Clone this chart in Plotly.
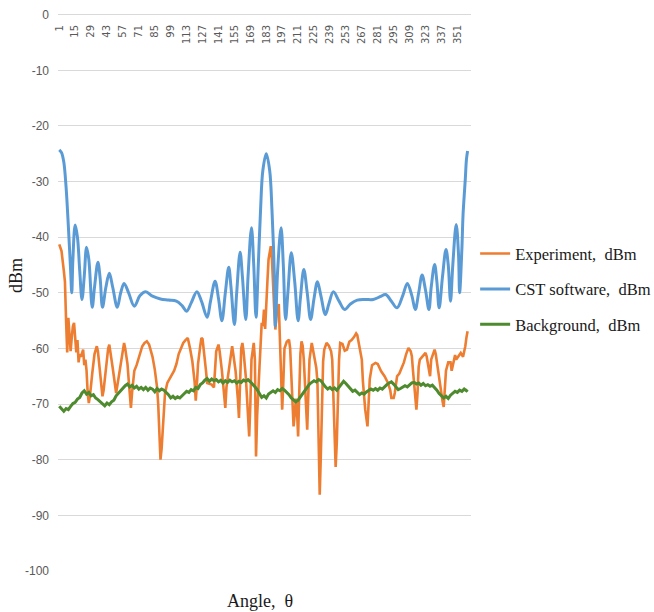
import plotly.graph_objects as go

# ---------------- data ----------------
cst_angle = [1, 3, 5, 7, 9, 11, 12, 13, 15, 17, 19, 21, 23, 25, 27, 30, 32, 35, 37, 39,
             42, 45, 48, 52, 55, 58, 62, 67, 72, 77, 83, 90, 97, 104, 109, 113, 117, 122,
             126, 131, 134, 138, 141, 144, 147, 150, 152, 155, 157, 160, 162, 165, 167,
             170, 172, 174, 176, 178, 180, 183, 186, 188, 190, 191, 193, 196, 198, 200,
             202, 205, 208, 211, 213, 216, 219, 222, 225, 228, 231, 235, 238, 242, 247,
             252, 257, 263, 270, 277, 283, 288, 293, 298, 303, 307, 311, 314, 317, 320,
             323, 326, 328, 331, 333, 335, 338, 341, 343, 345, 347, 350, 352, 353, 355,
             356, 358, 359, 360]
cst_dbm = [-24.3, -24.8, -26.5, -31, -38, -46, -50, -44, -37.8, -40, -46, -51.2, -47, -41.8,
           -44, -52.6, -49, -44.5, -47.5, -52.6, -49, -46.5, -49, -52.6, -50, -48.3, -50,
           -52.4, -50.5, -49.8, -50.6, -51.1, -51.3, -51.5, -52.3, -53.3, -51.8, -49.8,
           -51.5, -54.4, -51.5, -47.9, -51, -55, -50, -45.4, -49, -55.7, -50, -42.7, -47,
           -54.8, -47, -38.3, -45, -54.4, -45, -35, -28, -25, -28, -35, -46, -56, -46,
           -38.3, -45, -54.8, -50, -42.8, -48, -55, -51, -45.8, -50, -54.8, -51, -48,
           -50.5, -53.9, -52, -49.8, -51.5, -53, -52, -51.3, -51.2, -51.2, -50.7, -50.3,
           -51.5, -52.7, -50.5, -48.3, -50.5, -53, -50, -46.8, -49.5, -53, -49, -44.9,
           -48, -52.7, -47, -42.2, -45, -51.5, -45, -37.7, -43, -50, -42, -36, -29.5,
           -26, -24.5]

exp_angle = [1, 3, 5, 6, 7, 8, 9, 10, 11, 12, 13, 14, 15, 16, 17, 18, 19, 20, 22, 23, 24,
             25, 26, 27, 28, 29, 30, 32, 34, 35, 37, 39, 40, 42, 44, 45, 46, 48, 49, 51,
             53, 55, 57, 58, 59, 61, 62, 64, 65, 67, 69, 70, 72, 74, 76, 78, 80, 81, 83,
             85, 87, 88, 89, 90, 91, 92, 93, 94, 96, 98, 100, 102, 104, 106, 108, 110,
             112, 114, 116, 118, 120, 121, 122, 123, 125, 126, 127, 129, 130, 131, 133,
             135, 137, 138, 139, 141, 142, 144, 146, 147, 148, 150, 152, 153, 154, 156,
             158, 159, 160, 161, 162, 163, 165, 167, 168, 169, 170, 172, 173, 174, 175,
             177, 178, 179, 180, 181, 182, 183, 184, 185, 187, 188, 189, 190, 191, 192,
             194, 195, 196, 197, 198, 199, 201, 203, 204, 205, 207, 208, 209, 210, 211,
             212, 213, 214, 215, 216, 218, 219, 220, 221, 223, 225, 227, 228, 229, 230,
             231, 232, 233, 234, 236, 238, 240, 241, 242, 243, 244, 245, 246, 247, 248,
             250, 252, 254, 256, 258, 260, 262, 263, 265, 267, 268, 270, 272, 273, 274,
             276, 279, 281, 284, 287, 290, 292, 293, 295, 296, 298, 300, 302, 304, 306,
             308, 310, 311, 312, 314, 315, 316, 317, 318, 320, 322, 323, 324, 326, 327,
             328, 330, 331, 332, 334, 336, 338, 339, 340, 341, 343, 344, 345, 346, 347,
             349, 350, 352, 354, 356, 358, 359, 360]
exp_dbm = [-41.3, -42.5, -46, -48, -55, -60.7, -54.5, -57, -60.5, -58, -56, -55.4, -58,
           -60.7, -58.5, -62.5, -61, -61.5, -60.2, -63, -62, -64, -68, -69.8, -68.5, -66,
           -64.5, -61, -59.6, -60.5, -64, -68.6, -67.5, -63, -60, -59.3, -60.5, -63.5,
           -65, -68, -65.5, -62.8, -59.5, -59, -60, -62.8, -65.5, -70.7, -68, -64, -63,
           -62.3, -61, -59.6, -59, -58.7, -59.3, -60, -61.5, -63.8, -67, -70, -75, -80,
           -78, -74, -71.6, -68, -66.2, -65.5, -64.7, -64, -62.8, -61, -60, -59, -58.5,
           -58.1, -60, -62.3, -66, -69.4, -66.5, -62.8, -59.5, -58.1, -58.3, -61.5, -64,
           -66.2, -66.3, -66.5, -67, -63, -60.5, -59.3, -60.5, -64, -69, -70.7, -67, -64,
           -60.5, -59.6, -61, -64, -69, -72.5, -66, -60, -59, -60.5, -65, -71, -75.8, -70,
           -62, -59, -62, -79.4, -72, -63.5, -60, -55.4, -56, -53, -56.5, -50.6, -48, -44,
           -41.6, -44, -50.6, -53, -56.6, -54, -52, -60, -66, -71, -66, -60, -58.8, -58.4,
           -60, -65, -74, -72, -69, -71, -75.8, -68, -61, -58.7, -59.5, -62, -70, -74.6,
           -68, -62, -59, -61, -63.5, -66, -75, -86.3, -79, -68, -62.3, -60.2, -59, -59.5,
           -60.5, -62, -70, -78, -81.3, -77, -68, -62, -59, -59.2, -60.4, -60.2, -58.8,
           -58.5, -58, -57.3, -57.6, -60, -62, -66, -71, -74, -70, -65.5, -63, -62.6,
           -62.8, -64.1, -65, -66.2, -67.5, -68.9, -68.9, -68, -65, -64.5, -63.5, -62.5,
           -61, -59.9, -60.5, -61.4, -64, -70, -71, -68, -63.3, -62, -61.5, -61, -60.8,
           -61.4, -64, -65, -62, -60.5, -60.2, -61, -64, -67.5, -69.5, -70.5, -68, -64,
           -62.5, -62.5, -62.5, -64, -63.1, -61.2, -62, -61.5, -60.8, -61.5, -59.6, -58,
           -56.9]

bg_angle = [1, 3, 5, 7, 9, 11, 13, 15, 17, 19, 21, 23, 25, 27, 29, 31, 33, 35, 37, 39,
            41, 43, 45, 47, 49, 51, 53, 55, 57, 59, 61, 63, 65, 67, 69, 71, 73, 75, 77,
            79, 81, 83, 85, 87, 89, 91, 93, 95, 97, 99, 101, 103, 105, 107, 109, 111,
            113, 115, 117, 119, 121, 123, 125, 127, 129, 131, 133, 135, 137, 139, 141,
            143, 145, 147, 149, 151, 153, 155, 157, 159, 161, 163, 165, 167, 169, 171,
            173, 175, 177, 179, 181, 183, 185, 187, 189, 191, 193, 195, 197, 199, 201,
            203, 205, 207, 209, 211, 213, 215, 217, 219, 221, 223, 225, 227, 229, 231,
            233, 235, 237, 239, 241, 243, 245, 247, 249, 251, 253, 255, 257, 259, 261,
            263, 265, 267, 269, 271, 273, 275, 277, 279, 281, 283, 285, 287, 289, 291,
            293, 295, 297, 299, 301, 303, 305, 307, 309, 311, 313, 315, 317, 319, 321,
            323, 325, 327, 329, 331, 333, 335, 337, 339, 341, 343, 345, 347, 349, 351,
            353, 355, 357, 359, 360]
bg_dbm = [-70.4, -70.9, -71.3, -70.8, -71.0, -70.4, -69.9, -69.7, -69.1, -68.8, -68.0,
          -67.6, -68.2, -67.9, -68.5, -68.3, -68.9, -69.2, -69.6, -69.9, -70.3, -69.8,
          -70.1, -69.6, -69.3, -68.5, -68.0, -67.6, -67.2, -66.7, -66.4, -66.9, -66.6,
          -67.1, -66.8, -67.3, -67.0, -67.4, -67.0, -67.5, -67.1, -67.3, -67.8, -67.2,
          -67.6, -67.3, -67.5, -67.9, -68.3, -68.9, -68.6, -69.0, -68.7, -68.9, -68.4,
          -68.1, -67.7, -67.9, -67.4, -67.6, -67.0, -67.2, -66.5, -66.2, -65.7, -65.4,
          -65.9, -65.5, -65.8, -65.6, -66.0, -65.7, -66.2, -65.8, -66.1, -65.7, -66.0,
          -65.8, -66.2, -65.9, -66.1, -65.7, -65.9, -65.6, -66.0, -66.4, -66.9, -67.4,
          -68.2, -68.8, -68.5, -68.9, -68.2, -67.9, -67.6, -67.9, -67.4, -67.6, -67.2,
          -67.5, -67.9, -68.3, -68.9, -69.2, -69.6, -69.3, -68.7, -68.2, -67.5, -66.9,
          -66.4, -66.1, -65.8, -66.0, -65.6, -65.8, -66.4, -66.9, -67.3, -67.0, -67.4,
          -67.1, -67.5, -66.9, -66.4, -65.9, -66.3, -66.8, -67.2, -67.7, -67.5, -68.0,
          -68.3, -68.0, -68.2, -67.8, -67.6, -67.3, -67.5, -67.2, -67.5, -67.1, -67.3,
          -66.8, -66.5, -66.2, -66.0, -66.4, -66.9, -67.4, -67.2, -67.0, -66.7, -66.9,
          -66.5, -66.2, -66.1, -66.4, -66.2, -66.6, -66.3, -66.7, -66.5, -66.8, -66.6,
          -67.0, -67.5, -68.1, -68.6, -68.9, -68.6, -69.0, -68.4, -68.1, -67.7, -67.9,
          -67.5, -67.7, -67.3, -67.6, -67.4, -67.3]

x_ticks = list(range(1, 361, 14))
y_ticks = list(range(-100, 1, 10))

# ---------------- figure ----------------
fig = go.Figure()
fig.add_trace(go.Scatter(x=exp_angle, y=exp_dbm, mode="lines",
                         name="Experiment,  dBm", legendgroup="a",
                         line=dict(color="#ED7D31", width=2.6)))
fig.add_trace(go.Scatter(x=cst_angle, y=cst_dbm, mode="lines",
                         name="CST software,  dBm", legendgroup="b",
                         line=dict(color="#5B9BD5", width=3, shape="spline", smoothing=1.0)))
fig.add_trace(go.Scatter(x=bg_angle, y=bg_dbm, mode="lines",
                         name="Background,  dBm", legendgroup="c",
                         line=dict(color="#4E8A2E", width=3)))

fig.update_layout(
    width=654, height=612,
    margin=dict(l=58, r=183, t=13, b=41, autoexpand=False),
    paper_bgcolor="white", plot_bgcolor="white",
    showlegend=True,
    legend=dict(x=1.01, xanchor="left", y=0.6, yanchor="top",
                font=dict(family="Liberation Serif", size=16.5, color="#1a1a1a"),
                tracegroupgap=11, traceorder="grouped",
                bgcolor="rgba(0,0,0,0)"),
    xaxis=dict(range=[-0.1, 363], side="bottom", anchor="free", position=1,
               tickmode="array", tickvals=x_ticks, ticktext=[str(v) for v in x_ticks],
               tickangle=-90, ticklabelstandoff=9,
               tickfont=dict(family="DejaVu Sans", size=10, color="#595959"),
               showgrid=False, zeroline=False, showline=False, ticks=""),
    yaxis=dict(range=[-100, 0.3], domain=[0, 1], tickmode="array", tickvals=y_ticks,
               ticktext=[str(v) for v in y_ticks],
               tickfont=dict(family="Liberation Sans", size=12, color="#595959"),
               showgrid=True, gridcolor="#d9d9d9", gridwidth=1,
               zeroline=False, showline=False, ticks="", ticklabelstandoff=8),
    annotations=[
        dict(text="dBm", xref="paper", yref="paper", x=-0.1, y=0.53,
             xanchor="center", yanchor="middle", textangle=-90, showarrow=False,
             font=dict(family="Liberation Serif", size=18, color="#1a1a1a")),
        dict(text="Angle,  θ", xref="paper", yref="paper", x=0.49, y=-0.033,
             xanchor="center", yanchor="top", showarrow=False,
             font=dict(family="Liberation Serif", size=18, color="#1a1a1a")),
    ],
)

fig.write_html("out.html")
